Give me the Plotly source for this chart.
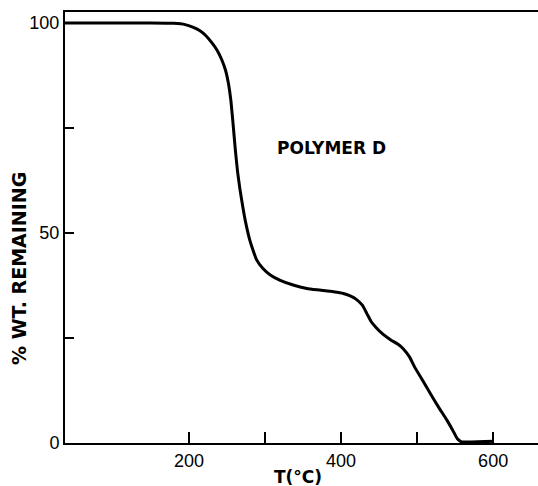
import plotly.graph_objects as go

temp_c = [37, 150, 180, 195, 205, 214, 222, 230, 237, 243, 248, 252, 255, 258, 261, 264, 267,
          271, 274, 280, 285, 289, 297, 307, 320, 337, 355, 372, 390, 403, 412, 420, 428, 434,
          440, 446, 455, 465, 475, 482, 490, 497, 507, 517, 528, 539, 547, 553, 558, 600]
wt_remaining = [100, 100, 99.9, 99.6, 99.0, 98.2, 97.0, 95.3, 93.5, 91.3, 88.8, 85.5, 81.7, 76, 69.8, 64.5, 60.5,
                56.0, 53.0, 48.3, 45.5, 43.6, 41.6, 40, 38.7, 37.6, 36.8, 36.4, 36.0, 35.6, 35.0, 34.2, 32.8, 30.8,
                28.8, 27.5, 25.9, 24.6, 23.5, 22.4, 20.5, 18.0, 15.0, 11.9, 8.6, 5.5, 3.0, 1.0, 0.3, 0.4]

x_tick_vals = [200, 300, 400, 500, 600]
x_tick_text = ["200", "", "400", "", "600"]
y_tick_vals = [0, 25, 50, 75, 100]
y_tick_text = ["0", "", "50", "", "100"]

fam = "Liberation Sans, Arial, Helvetica"
wide = "DejaVu Sans, Verdana"

fig = go.Figure()
fig.add_trace(go.Scatter(x=temp_c, y=wt_remaining, mode="lines",
                         line=dict(color="black", width=3, shape="spline", smoothing=0.5),
                         showlegend=False, hoverinfo="skip"))

fig.add_annotation(x=388, y=70.2, xref="x", yref="y", text="<b>POLYMER D</b>", showarrow=False,
                   font=dict(family=wide, size=17, color="black"))

fig.add_annotation(x=19, y=269, xref="paper", yref="paper", text="<b>% WT. REMAINING</b>",
                   showarrow=False, textangle=-90, xanchor="center", yanchor="middle",
                   font=dict(family=wide, size=19, color="black"))
fig.add_annotation(x=298, y=477, xref="paper", yref="paper", text="<b>T(°C)</b>",
                   showarrow=False, xanchor="center", yanchor="middle",
                   font=dict(family=wide, size=17, color="black"))

font = dict(family=fam, size=18, color="black")
fig.update_layout(
    width=538, height=486,
    margin=dict(l=65, r=0, t=12, b=43),
    paper_bgcolor="white", plot_bgcolor="white",
    font=font,
    xaxis=dict(range=[37, 659], tickvals=x_tick_vals, ticktext=x_tick_text,
               ticks="inside", ticklen=11, tickwidth=2, tickcolor="black",
               showline=True, linecolor="black", linewidth=2, mirror=True,
               showgrid=False, zeroline=False, tickfont=font),
    yaxis=dict(range=[0, 102.6], tickvals=y_tick_vals, ticktext=y_tick_text,
               ticks="inside", ticklen=9, tickwidth=2, tickcolor="black",
               showline=True, linecolor="black", linewidth=2,
               showgrid=False, zeroline=False, tickfont=font),
)

# convert pixel positions of titles into paper coordinates
W, H = 538, 486
l, r, t, b = 65, 0, 12, 43
pw, ph = W - l - r, H - t - b
for ann in fig.layout.annotations:
    if ann.xref == "paper":
        ann.x = (ann.x - l) / pw
        ann.y = (H - b - ann.y) / ph

fig.write_html("out.html")
